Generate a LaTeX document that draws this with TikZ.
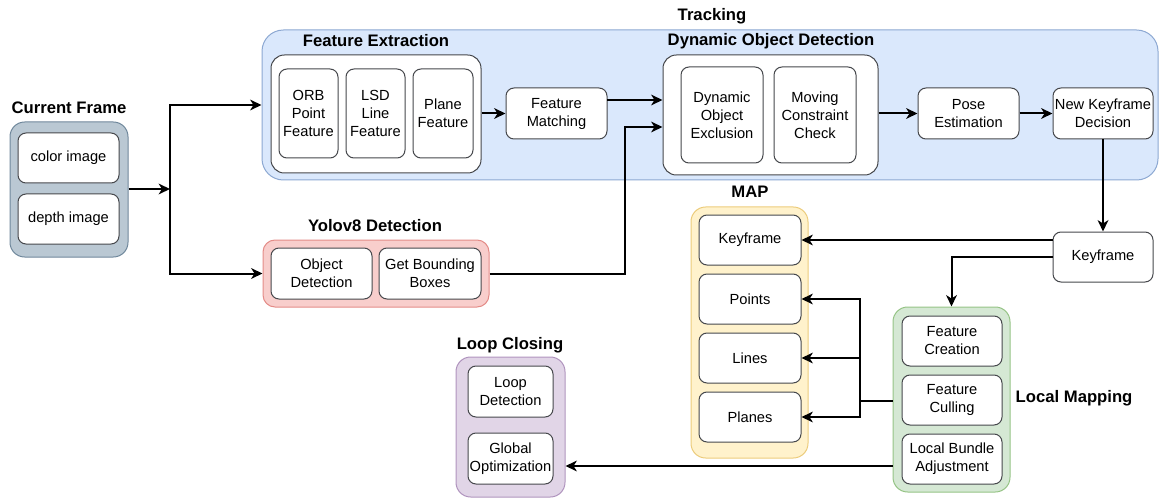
\documentclass[tikz,border=0pt]{standalone}
\usepackage{fontspec}
\setmainfont{Liberation Sans}
\usetikzlibrary{arrows.meta}
\definecolor{cellline}{RGB}{70,72,76}
\definecolor{framefill}{RGB}{186,200,211}
\definecolor{frameline}{RGB}{112,136,156}
\definecolor{trackfill}{RGB}{218,232,252}
\definecolor{trackline}{RGB}{140,168,210}
\definecolor{yolofill}{RGB}{248,206,204}
\definecolor{yololine}{RGB}{228,140,136}
\definecolor{mapfill}{RGB}{255,242,204}
\definecolor{mapline}{RGB}{236,204,124}
\definecolor{lmfill}{RGB}{213,232,212}
\definecolor{lmline}{RGB}{150,196,134}
\definecolor{lcfill}{RGB}{225,213,231}
\definecolor{lcline}{RGB}{176,148,190}
\tikzset{
    dims/.style 2 args={minimum width=#1*0.75pt,minimum height=#2*0.75pt},
    panel/.style={rounded corners=11pt,line width=0.75pt,inner sep=0pt},
    holder/.style={panel,draw=cellline,fill=white,rounded corners=10pt},
    cell/.style={draw=cellline,fill=white,rounded corners=6pt,line width=0.75pt,
        inner sep=0pt,align=center,font=\fontsize{11}{13.5}\selectfont},
    title/.style={font=\bfseries\fontsize{12.5}{15}\selectfont},
    flow/.style={-{Stealth[length=8.5pt,width=8pt,inset=2.5pt]},line width=1.5pt},
    wire/.style={line width=1.5pt}
}
\begin{document}
\begin{tikzpicture}[x=0.75pt,y=-0.75pt]
    \useasboundingbox (0,0) rectangle (1160,499);
    % Current frame
    \node[panel,draw=frameline,fill=framefill,dims={118}{135}] (cf) at (69,189.5) {};
    \node[title] (cftitle) at (69,108) {Current Frame};
    \node[cell,dims={101}{50}] (color) at (68.5,158) {color image};
    \node[cell,dims={101}{50}] (depth) at (68.5,219) {depth image};
    % Tracking
    \node[panel,draw=trackline,fill=trackfill,rounded corners=16pt,dims={896}{150}] (trk) at (710,105) {};
    \node[title] (trktitle) at (712,16) {Tracking};
    \node[holder,dims={210}{118}] (fe) at (376,114) {};
    \node[title] (fetitle) at (376,41) {Feature Extraction};
    \node[cell,dims={59}{89}] (orb) at (308.5,113.5) {ORB\\Point\\Feature};
    \node[cell,dims={59}{89}] (lsd) at (375.5,113.5) {LSD\\Line\\Feature};
    \node[cell,dims={60}{89}] (plane) at (443,113.5) {Plane\\Feature};
    \node[cell,dims={101}{51}] (fm) at (556.5,113.5) {Feature\\Matching};
    \node[holder,dims={215}{120}] (dod) at (770.5,115) {};
    \node[title] (dodtitle) at (771,41) {Dynamic Object Detection};
    \node[cell,dims={82}{96}] (doe) at (722,115) {Dynamic\\Object\\Exclusion};
    \node[cell,dims={82}{96}] (mcc) at (815,115) {Moving\\Constraint\\Check};
    \node[cell,dims={101}{51}] (pose) at (968.5,113.5) {Pose\\Estimation};
    \node[cell,dims={100}{51}] (nkd) at (1103,113.5) {New Keyframe\\Decision};
    % Yolov8
    \node[panel,draw=yololine,fill=yolofill,rounded corners=9pt,dims={226}{67}] (yolo) at (376,273.5) {};
    \node[title] (yolotitle) at (375,226) {Yolov8 Detection};
    \node[cell,dims={101}{51}] (od) at (321.5,273.5) {Object\\Detection};
    \node[cell,dims={102}{51}] (gbb) at (430,273.5) {Get Bounding\\Boxes};
    % Map
    \node[panel,draw=mapline,fill=mapfill,dims={117}{251}] (map) at (749.5,332.5) {};
    \node[title] (maptitle) at (750,192) {MAP};
    \node[cell,dims={102}{50}] (mkf) at (750,240) {Keyframe};
    \node[cell,dims={102}{50}] (pts) at (750,299) {Points};
    \node[cell,dims={102}{50}] (lns) at (750,358) {Lines};
    \node[cell,dims={102}{50}] (pln) at (750,417) {Planes};
    \node[cell,dims={100}{50}] (kf) at (1103,257) {Keyframe};
    % Local mapping
    \node[panel,draw=lmline,fill=lmfill,dims={117}{185}] (lm) at (951.5,399.5) {};
    \node[title,anchor=west] (lmtitle) at (1011,398) {Local Mapping};
    \node[cell,dims={100}{50}] (fc) at (952,341) {Feature\\Creation};
    \node[cell,dims={100}{50}] (fcu) at (952,400) {Feature\\Culling};
    \node[cell,dims={100}{50}] (lba) at (952,459) {Local Bundle\\Adjustment};
    % Loop closing
    \node[panel,draw=lcline,fill=lcfill,dims={109}{140}] (lc) at (510.5,427) {};
    \node[title] (lctitle) at (510,345) {Loop Closing};
    \node[cell,dims={85}{51}] (ld) at (510.5,391.5) {Loop\\Detection};
    \node[cell,dims={85}{51}] (go) at (510.5,458.5) {Global\\Optimization};
    % Connectors
    \coordinate (split) at (170,189);
    \coordinate (yup) at (625,127);
    \coordinate (fmout) at (607,100);
    \coordinate (mj) at (860,401);
    \coordinate (lcin) at (0,466);
    \draw[flow] (cf.east |- split) -- (split);
    \draw[flow] (split) |- (trk.west);
    \draw[flow] (split) |- (yolo.west);
    \draw[flow] (fe.east |- fm) -- (fm.west);
    \draw[flow] (fmout) -- (dod.west |- fmout);
    \draw[flow] (yolo.east) -| (yup) -- (dod.west |- yup);
    \draw[flow] (dod.east |- pose) -- (pose.west);
    \draw[flow] (pose.east) -- (nkd.west);
    \draw[flow] (nkd.south) -- (kf.north);
    \draw[flow] (kf.west |- mkf) -- (mkf.east);
    \draw[flow] (kf.west) -| (lm.north);
    \draw[wire] (lm.west |- mj) -- (mj);
    \draw[flow] (mj) |- (pts.east);
    \draw[flow] (mj) |- (lns.east);
    \draw[flow] (mj) |- (pln.east);
    \draw[flow] (lm.west |- lcin) -- (lc.east |- lcin);
\end{tikzpicture}
\end{document}
